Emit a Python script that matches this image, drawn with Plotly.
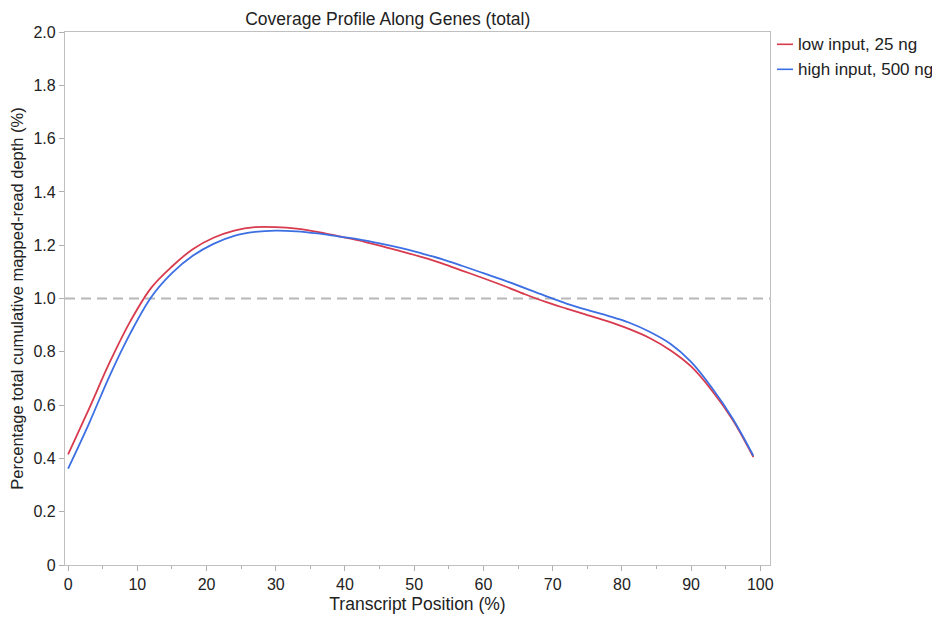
import plotly.graph_objects as go

positions = [0, 3, 6, 9, 12, 15, 18, 21, 24, 27, 30, 33, 36, 39, 42, 45, 48, 51,
             54, 57, 60, 63, 66, 69, 72, 75, 78, 81, 84, 87, 90, 93, 96, 99]
low_input = [0.415, 0.585, 0.76, 0.915, 1.04, 1.12, 1.185, 1.228, 1.255, 1.268,
             1.268, 1.262, 1.250, 1.234, 1.218, 1.198, 1.178, 1.156, 1.132, 1.104,
             1.076, 1.047, 1.016, 0.987, 0.962, 0.938, 0.914, 0.886, 0.852, 0.806,
             0.745, 0.655, 0.545, 0.405]
high_input = [0.362, 0.53, 0.71, 0.87, 1.005, 1.095, 1.16, 1.205, 1.235, 1.25,
              1.255, 1.252, 1.244, 1.233, 1.222, 1.207, 1.19, 1.17, 1.148, 1.122,
              1.095, 1.068, 1.039, 1.009, 0.981, 0.957, 0.935, 0.91, 0.875, 0.83,
              0.762, 0.665, 0.55, 0.41]
series_names = ["low input, 25 ng", "high input, 500 ng"]
series_colors = ["#d83a4e", "#3b6fe3"]
y_ticks = [0, 0.2, 0.4, 0.6, 0.8, 1.0, 1.2, 1.4, 1.6, 1.8, 2.0]
y_tick_labels = ["0", "0.2", "0.4", "0.6", "0.8", "1.0", "1.2", "1.4", "1.6", "1.8", "2.0"]
x_ticks = [0, 10, 20, 30, 40, 50, 60, 70, 80, 90, 100]

font = "Liberation Sans, Arial, Helvetica, sans-serif"
txt = "#222222"

fig = go.Figure()
for name, vals, col in zip(series_names, [low_input, high_input], series_colors):
    fig.add_trace(go.Scatter(x=positions, y=vals, name=name, mode="lines", showlegend=False,
                             line=dict(color=col, width=1.8, shape="spline", smoothing=1.0)))

fig.add_shape(type="line", xref="paper", yref="y", x0=0, x1=1, y0=1.0, y1=1.0,
              line=dict(color="#b8b8b8", width=1.8, dash="10px,6px"), layer="below")

# legend (line sample + label), placed right of the plot area
legend_y = [0.9769, 0.930]
for name, col, ly in zip(series_names, series_colors, legend_y):
    fig.add_shape(type="line", xref="paper", yref="paper", x0=1.0099, x1=1.0326,
                  y0=ly, y1=ly, line=dict(color=col, width=1.6))
    fig.add_annotation(text=name, xref="paper", yref="paper", x=1.0369, y=ly,
                       xanchor="left", yanchor="middle", showarrow=False,
                       font=dict(size=17, family=font, color=txt))

fig.update_layout(
    width=940, height=617,
    margin=dict(l=57, r=178, t=24, b=60, autoexpand=False),
    plot_bgcolor="white", paper_bgcolor="white",
    font=dict(family=font, color=txt),
    title=dict(text="Coverage Profile Along Genes (total)", x=0.404, xref="container",
               xanchor="center", y=0.982, yref="container", yanchor="middle",
               font=dict(size=17.5, family=font, color=txt)),
    showlegend=False,
    xaxis=dict(range=[-0.45, 101.4], tickvals=x_ticks, ticks="outside", ticklen=5,
               tickcolor="#b0b0b0", showline=True, linecolor="#c0c0c0", linewidth=1.2,
               mirror=True, showgrid=False, zeroline=False, automargin=False,
               tickfont=dict(size=16, family=font, color=txt),
               title=dict(text="Transcript Position (%)", standoff=5,
                          font=dict(size=17.5, family=font, color=txt)),
               minor=dict(dtick=5, tick0=0, ticks="outside", ticklen=3,
                          tickcolor="#b0b0b0", showgrid=False)),
    yaxis=dict(range=[0, 2.0], tickvals=y_ticks, ticktext=y_tick_labels,
               ticks="outside", ticklen=5, tickcolor="#b0b0b0", showline=True,
               linecolor="#c0c0c0", linewidth=1.2, mirror=True, showgrid=False,
               zeroline=False, automargin=False,
               tickfont=dict(size=16, family=font, color=txt),
               title=dict(text="Percentage total cumulative mapped-read depth (%)",
                          standoff=6, font=dict(size=16.5, family=font, color=txt))),
)

fig.write_html("out.html")
